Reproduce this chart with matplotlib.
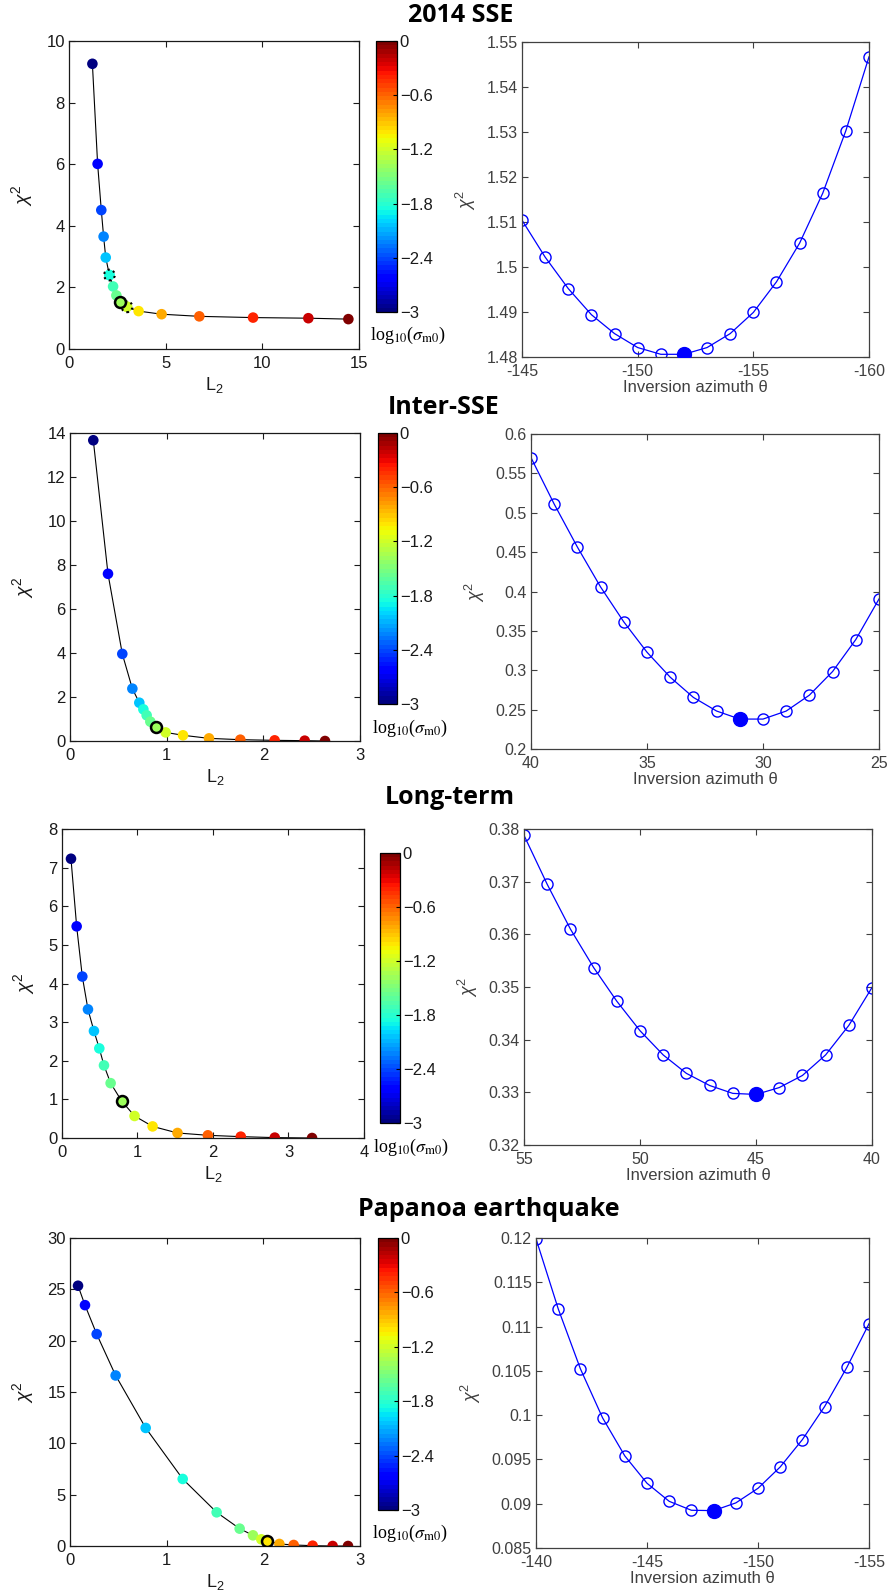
import matplotlib
matplotlib.use("Agg")
import matplotlib.pyplot as plt
from matplotlib.ticker import FuncFormatter
import matplotlib.colors as mcolors
import matplotlib.cm as cm

plt.rcParams['font.family'] = ['Liberation Sans', 'DejaVu Sans']
plt.rcParams['mathtext.fontset'] = 'custom'
plt.rcParams['mathtext.rm'] = 'Liberation Sans'
plt.rcParams['mathtext.it'] = 'Liberation Sans:italic'

W, H = 890, 1596

# regularisation strength of every L-curve point (log10 sigma_m0)
log_sigma = [-3.0, -2.65, -2.4, -2.25, -2.05, -1.85, -1.7, -1.55,
             -1.4, -1.2, -1.0, -0.8, -0.6, -0.4, -0.2, 0.0]

# --- 2014 SSE ---
sse_l2 = [1.21, 1.48, 1.67, 1.79, 1.90, 2.09, 2.28, 2.45,
          2.64, 3.00, 3.60, 4.79, 6.74, 9.52, 12.38, 14.45]
sse_chi = [9.26, 6.01, 4.51, 3.65, 2.97, 2.40, 2.03, 1.74,
           1.54, 1.37, 1.23, 1.13, 1.06, 1.02, 1.00, 0.97]
sse_az = [-145, -146, -147, -148, -149, -150, -151, -152,
          -153, -154, -155, -156, -157, -158, -159, -160]
sse_az_chi = [1.5104, 1.5022, 1.4952, 1.4894, 1.4852, 1.4821, 1.4806, 1.4806,
              1.4821, 1.4852, 1.4899, 1.4967, 1.5053, 1.5164, 1.5303, 1.5467]

# --- Inter-SSE ---
inter_l2 = [0.241, 0.393, 0.541, 0.645, 0.717, 0.759, 0.793, 0.831,
            0.890, 0.990, 1.169, 1.438, 1.762, 2.117, 2.428, 2.638]
inter_chi = [13.67, 7.60, 3.96, 2.38, 1.74, 1.44, 1.17, 0.88,
             0.62, 0.39, 0.26, 0.12, 0.06, 0.03, 0.015, 0.0]
inter_az = [40, 39, 38, 37, 36, 35, 34, 33, 32, 31, 30, 29, 28, 27, 26, 25]
inter_az_chi = [0.570, 0.511, 0.4564, 0.4057, 0.3614, 0.3229, 0.2912, 0.2655,
                0.2482, 0.2380, 0.2380, 0.2482, 0.2684, 0.2984, 0.3390, 0.3905]

# --- Long-term ---
long_l2 = [0.119, 0.194, 0.269, 0.344, 0.423, 0.494, 0.556, 0.644,
           0.789, 0.961, 1.200, 1.530, 1.932, 2.368, 2.818, 3.312]
long_chi = [7.23, 5.48, 4.18, 3.33, 2.77, 2.32, 1.88, 1.42,
            0.96, 0.57, 0.30, 0.13, 0.07, 0.035, 0.01, 0.0]
long_az = [55, 54, 53, 52, 51, 50, 49, 48, 47, 46, 45, 44, 43, 42, 41, 40]
long_az_chi = [0.3788, 0.3695, 0.3610, 0.3537, 0.3473, 0.3417, 0.3371, 0.3336,
               0.3313, 0.3298, 0.3296, 0.3309, 0.3332, 0.3371, 0.3427, 0.3499]

# --- Papanoa earthquake ---
pap_l2 = [0.083, 0.155, 0.276, 0.472, 0.783, 1.166, 1.517, 1.755,
          1.893, 1.979, 2.038, 2.166, 2.314, 2.510, 2.717, 2.876]
pap_chi = [25.35, 23.46, 20.64, 16.61, 11.50, 6.53, 3.28, 1.69,
           1.04, 0.65, 0.52, 0.20, 0.10, 0.03, 0.0, 0.0]
pap_az = [-140, -141, -142, -143, -144, -145, -146, -147,
          -148, -149, -150, -151, -152, -153, -154, -155]
pap_az_chi = [0.11992, 0.11201, 0.10523, 0.09969, 0.09540, 0.09231, 0.09027, 0.08926,
              0.08922, 0.09009, 0.09174, 0.09415, 0.09724, 0.10097, 0.10538, 0.11032]

cbar_ticks = [0, -0.6, -1.2, -1.8, -2.4, -3]
cbar_labels = ['0', '\u22120.6', '\u22121.2', '\u22121.8', '\u22122.4', '\u22123']

rows = [
    dict(title="2014 SSE", tx=408, ty=15,
         l2=sse_l2, chi=sse_chi, best=8, dotted=[5, 9],
         xlim=(0, 15), xt=[0, 5, 10, 15], ylim=(0, 10), yt=[0, 2, 4, 6, 8, 10],
         az=sse_az, azchi=sse_az_chi, azbest=7,
         azlim=(-145, -160), azt=[-145, -150, -155, -160],
         azylim=(1.48, 1.55), azyt=[1.48, 1.49, 1.50, 1.51, 1.52, 1.53, 1.54, 1.55],
         L=(69, 41, 359, 349), C=(376, 41, 397, 312), R=(522, 42, 869, 357), lab=(370, 335)),
    dict(title="Inter-SSE", tx=388, ty=407,
         l2=inter_l2, chi=inter_chi, best=8, dotted=[],
         xlim=(0, 3), xt=[0, 1, 2, 3], ylim=(0, 14), yt=[0, 2, 4, 6, 8, 10, 12, 14],
         az=inter_az, azchi=inter_az_chi, azbest=9,
         azlim=(40, 25), azt=[40, 35, 30, 25],
         azylim=(0.2, 0.6), azyt=[0.2, 0.25, 0.3, 0.35, 0.4, 0.45, 0.5, 0.55, 0.6],
         L=(70, 433, 360, 741), C=(378, 433, 397, 704), R=(531, 434, 879, 749), lab=(372, 728)),
    dict(title="Long-term", tx=385, ty=798,
         l2=long_l2, chi=long_chi, best=8, dotted=[],
         xlim=(0, 4), xt=[0, 1, 2, 3, 4], ylim=(0, 8), yt=[0, 1, 2, 3, 4, 5, 6, 7, 8],
         az=long_az, azchi=long_az_chi, azbest=10,
         azlim=(55, 40), azt=[55, 50, 45, 40],
         azylim=(0.32, 0.38), azyt=[0.32, 0.33, 0.34, 0.35, 0.36, 0.37, 0.38],
         L=(62, 829, 364, 1138), C=(380, 853, 400, 1123), R=(524, 829, 872, 1145), lab=(373, 1147)),
    dict(title="Papanoa earthquake", tx=358, ty=1210,
         l2=pap_l2, chi=pap_chi, best=10, dotted=[],
         xlim=(0, 3), xt=[0, 1, 2, 3], ylim=(0, 30), yt=[0, 5, 10, 15, 20, 25, 30],
         az=pap_az, azchi=pap_az_chi, azbest=8,
         azlim=(-140, -155), azt=[-140, -145, -150, -155],
         azylim=(0.085, 0.12), azyt=[0.085, 0.09, 0.095, 0.1, 0.105, 0.11, 0.115, 0.12],
         L=(70, 1238, 360, 1546), C=(378, 1238, 398, 1510), R=(536, 1238, 869, 1548), lab=(372, 1533)),
]

fig = plt.figure(figsize=(W / 100, H / 100), dpi=100)
cmap = plt.get_cmap('jet', 64)
norm = mcolors.Normalize(vmin=-3, vmax=0)
gfmt = FuncFormatter(lambda v, p: '%g' % round(v, 4))


def add_ax(box):
    l, t, r, b = box
    return fig.add_axes([l / W, 1 - b / H, (r - l) / W, (b - t) / H])


def style(ax, color, size):
    ax.tick_params(direction='in', top=True, right=True, length=4, width=0.8,
                   labelsize=size, labelcolor=color, color=color, pad=3)
    ax.tick_params(axis='x', pad=5)
    for s in ax.spines.values():
        s.set_color(color)
        s.set_linewidth(0.9)


for r in rows:
    fig.text(r['tx'] / W, 1 - r['ty'] / H, r['title'], family='Open Sans',
             fontweight='bold', fontsize=18, ha='left', va='center')

    # L-curve
    ax = add_ax(r['L'])
    ax.plot(r['l2'], r['chi'], color='k', lw=0.8, zorder=1)
    ax.scatter(r['l2'], r['chi'], c=log_sigma, cmap=cmap, norm=norm, s=58,
               edgecolors='none', zorder=2)
    for i in r['dotted']:
        ax.scatter([r['l2'][i]], [r['chi'][i]], c=[log_sigma[i]], cmap=cmap, norm=norm,
                   s=60, edgecolors='k', linewidths=1.5, linestyles=':', zorder=3)
    b = r['best']
    ax.scatter([r['l2'][b]], [r['chi'][b]], c=[log_sigma[b]], cmap=cmap, norm=norm,
               s=62, edgecolors='k', linewidths=1.8, zorder=4)
    ax.set_xlim(*r['xlim'])
    ax.set_ylim(*r['ylim'])
    ax.set_xticks(r['xt'])
    ax.set_yticks(r['yt'])
    style(ax, '#1a1a1a', 12)
    ax.set_xlabel('L$_2$', fontsize=13, color='#1a1a1a', labelpad=3)
    ax.set_ylabel('$\\chi^2$', fontsize=14, color='#1a1a1a', labelpad=8,
                  family='DejaVu Serif')

    # colorbar
    cax = add_ax(r['C'])
    sm = cm.ScalarMappable(norm=norm, cmap=cmap)
    cb = fig.colorbar(sm, cax=cax)
    cb.set_ticks(cbar_ticks)
    cb.set_ticklabels(cbar_labels)
    cb.outline.set_linewidth(0.9)
    cax.tick_params(direction='in', length=3, labelsize=12, labelcolor='#1a1a1a', pad=2)
    lx, ly = r['lab']
    fig.text(lx / W, 1 - ly / H, 'log$_{10}$($\\sigma_{\\rm m0}$)', family='Liberation Serif',
             fontsize=13, ha='left', va='center', math_fontfamily='stix')

    # azimuth scan
    ax2 = add_ax(r['R'])
    ax2.plot(r['az'], r['azchi'], color='blue', lw=0.9, marker='o', ms=8,
             mfc='none', mec='blue', mew=1.0, zorder=2)
    k = r['azbest']
    ax2.plot([r['az'][k]], [r['azchi'][k]], 'o', color='blue', ms=10, zorder=3)
    ax2.set_xlim(*r['azlim'])
    ax2.set_ylim(*r['azylim'])
    ax2.set_xticks(r['azt'])
    ax2.set_yticks(r['azyt'])
    ax2.xaxis.set_major_formatter(gfmt)
    ax2.yaxis.set_major_formatter(gfmt)
    style(ax2, '#404040', 11.5)
    ax2.set_xlabel('Inversion azimuth \u03b8', fontsize=12, color='#404040', labelpad=1)
    ax2.set_ylabel('$\\chi^2$', fontsize=13, color='#404040', labelpad=6)

fig.savefig('out.png', dpi=100)
